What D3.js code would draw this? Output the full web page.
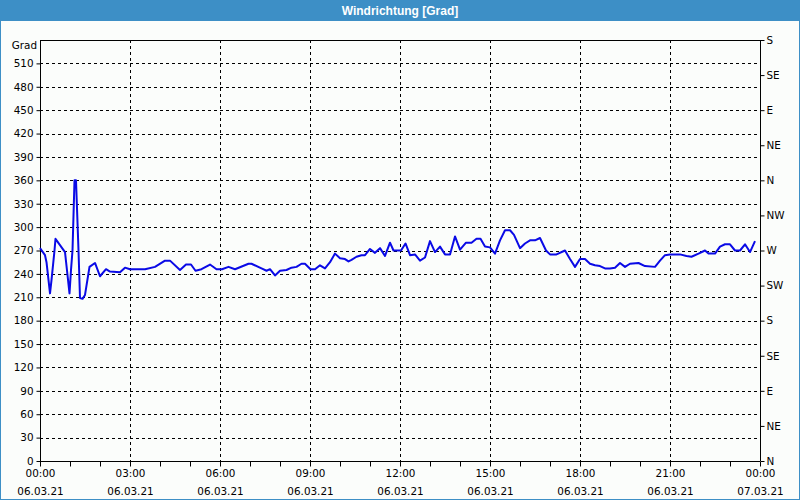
<!DOCTYPE html>
<html><head><meta charset="utf-8">
<script src="https://cdn.jsdelivr.net/npm/d3@7"></script>
<style>
html,body{margin:0;padding:0;background:#fbfdfb;}
svg{display:block;}
text{font-family:"DejaVu Sans",Verdana,sans-serif;}
</style></head>
<body>
<svg id="chart" width="800" height="500"></svg>
<script>
const title = "Windrichtung [Grad]";
const unitLabel = "Grad";
// minutes after 06.03.21 00:00
const minutes = [0,10,13,20,23,29,31,50,59,62,65,69,72,77,80,85,90,99,110,120,132,140,160,170,180,210,230,250,260,280,292,302,311,323,340,353,364,377,390,417,423,443,453,460,470,480,493,503,513,523,530,541,550,560,570,580,590,600,610,617,623,633,643,650,660,670,680,690,700,707,722,731,740,750,760,770,780,790,800,810,820,830,840,852,863,873,881,890,900,910,920,930,940,948,960,970,980,990,1000,1012,1020,1033,1050,1060,1070,1080,1090,1100,1110,1120,1130,1140,1150,1160,1170,1180,1197,1210,1230,1240,1250,1260,1280,1293,1303,1317,1330,1337,1350,1360,1370,1380,1390,1400,1410,1420,1430];
const values = [273,264,255,215,232,270,285,268,215,245,270,360,360,270,209,208,213,249,254,237,246,243,242,248,246,246,249,257,257,245,252,252,244,246,252,246,246,249,246,253,253,247,244,246,238,244,245,248,249,253,253,246,246,251,247,255,266,260,259,256,258,262,264,264,272,267,273,263,280,270,270,279,264,265,257,261,282,268,275,265,265,288,271,280,280,285,285,275,274,266,283,296,296,290,273,279,283,283,286,270,265,265,270,259,249,259,259,253,251,250,247,247,248,254,249,253,254,250,249,257,264,265,265,263,262,266,270,266,266,275,278,278,270,270,278,268,282];
const leftTicks = [0,30,60,90,120,150,180,210,240,270,300,330,360,390,420,450,480,510];
const rightTicks = [0,45,90,135,180,225,270,315,360,405,450,495,540];
const rightLabels = ["N","NE","E","SE","S","SW","W","NW","N","NE","E","SE","S"];

const W = 800, H = 500;
const m = {l:40, r:760, t:40, b:461};
const t0 = new Date(2021,2,6,0,0), t1 = new Date(2021,2,7,0,0);
const svg = d3.select("#chart");
const FS = "10.4px";

svg.append("rect").attr("x",0).attr("y",0).attr("width",W).attr("height",H).attr("fill","#fbfdfb");
svg.append("rect").attr("x",0).attr("y",0).attr("width",W).attr("height",21).attr("fill","#3d8fc6");
svg.append("rect").attr("x",0.5).attr("y",0.5).attr("width",W-1).attr("height",H-1).attr("fill","none").attr("stroke","#3d8fc6");
svg.append("text").attr("x",W/2).attr("y",15).attr("text-anchor","middle")
  .attr("fill","#fff").attr("font-weight","bold").attr("font-size","12px")
  .style("font-family","'Liberation Sans',Arial,sans-serif").text(title);

const x = d3.scaleTime().domain([t0,t1]).range([m.l,m.r]);
const y = d3.scaleLinear().domain([0,540]).range([m.b,m.t]);

const majorTimes = d3.timeHour.every(3).range(t0, d3.timeMinute.offset(t1,1));
const hourTimes = d3.timeHour.every(1).range(t0, d3.timeMinute.offset(t1,1));

// grid
const grid = svg.append("g").attr("stroke","#000").attr("stroke-width",1).attr("stroke-dasharray","3,3");
grid.selectAll(".hg").data(leftTicks.filter(v=>v>0)).join("line")
  .attr("x1",m.l).attr("x2",m.r).attr("y1",d=>Math.round(y(d))+0.5).attr("y2",d=>Math.round(y(d))+0.5);
grid.selectAll(".vg").data(majorTimes.filter(d=>+d>+t0 && +d<+t1)).join("line")
  .attr("x1",d=>Math.round(x(d))+0.5).attr("x2",d=>Math.round(x(d))+0.5).attr("y1",m.t).attr("y2",m.b);

// frame lines
svg.append("line").attr("x1",m.l).attr("x2",m.r).attr("y1",m.t+0.5).attr("y2",m.t+0.5).attr("stroke","#000");

// left axis
const fmt = d3.format("d");
const la = svg.append("g").attr("transform",`translate(${m.l+0.5},0)`)
  .call(d3.axisLeft(y).tickValues(leftTicks).tickSize(4).tickPadding(3).tickFormat(fmt));
// right axis
const ra = svg.append("g").attr("transform",`translate(${m.r+0.5},0)`)
  .call(d3.axisRight(y).tickValues(rightTicks).tickSize(4).tickPadding(2).tickFormat((d,i)=>rightLabels[i]));
// bottom axis
const ba = svg.append("g").attr("transform",`translate(0,${m.b+0.5})`)
  .call(d3.axisBottom(x).tickValues(hourTimes).tickSize(4).tickFormat(""));
const bl = svg.append("g").attr("transform",`translate(0,${m.b+0.5})`)
  .call(d3.axisBottom(x).tickValues(majorTimes).tickSize(0).tickPadding(8).tickFormat(d3.timeFormat("%H:%M")));
const bl2 = svg.append("g").attr("transform",`translate(0,${m.b+0.5})`)
  .call(d3.axisBottom(x).tickValues(majorTimes).tickSize(0).tickPadding(26).tickFormat(d3.timeFormat("%d.%m.%y")));

[la,ra,ba,bl,bl2].forEach(g=>{
  g.selectAll("path.domain").attr("stroke","#000");
  g.selectAll("line").attr("stroke","#000");
  g.selectAll("text").attr("fill","#000").attr("font-size",FS).style("font-family","'DejaVu Sans',Verdana,sans-serif");
});
ra.selectAll("path.domain").attr("d",`M0,${m.t}V${m.b}`);
la.selectAll("path.domain").attr("d",`M0,${m.t}V${m.b}`);
ba.selectAll("path.domain").attr("d",`M${m.l},0H${m.r}`);
bl.select("path.domain").remove(); bl2.select("path.domain").remove();
ba.selectAll("line").attr("y2",5);

svg.append("text").attr("x",37).attr("y",49).attr("text-anchor","end").attr("font-size",FS).attr("fill","#000").text(unitLabel);

// line
const data = minutes.map((mm,i)=>({t:d3.timeMinute.offset(t0,mm), v:values[i]}));
svg.append("path").datum(data)
  .attr("fill","none").attr("stroke","#0a0ae6").attr("stroke-width",2).attr("stroke-linejoin","round")
  .attr("d", d3.line().x(d=>x(d.t)).y(d=>y(d.v)));
</script>
</body></html>
